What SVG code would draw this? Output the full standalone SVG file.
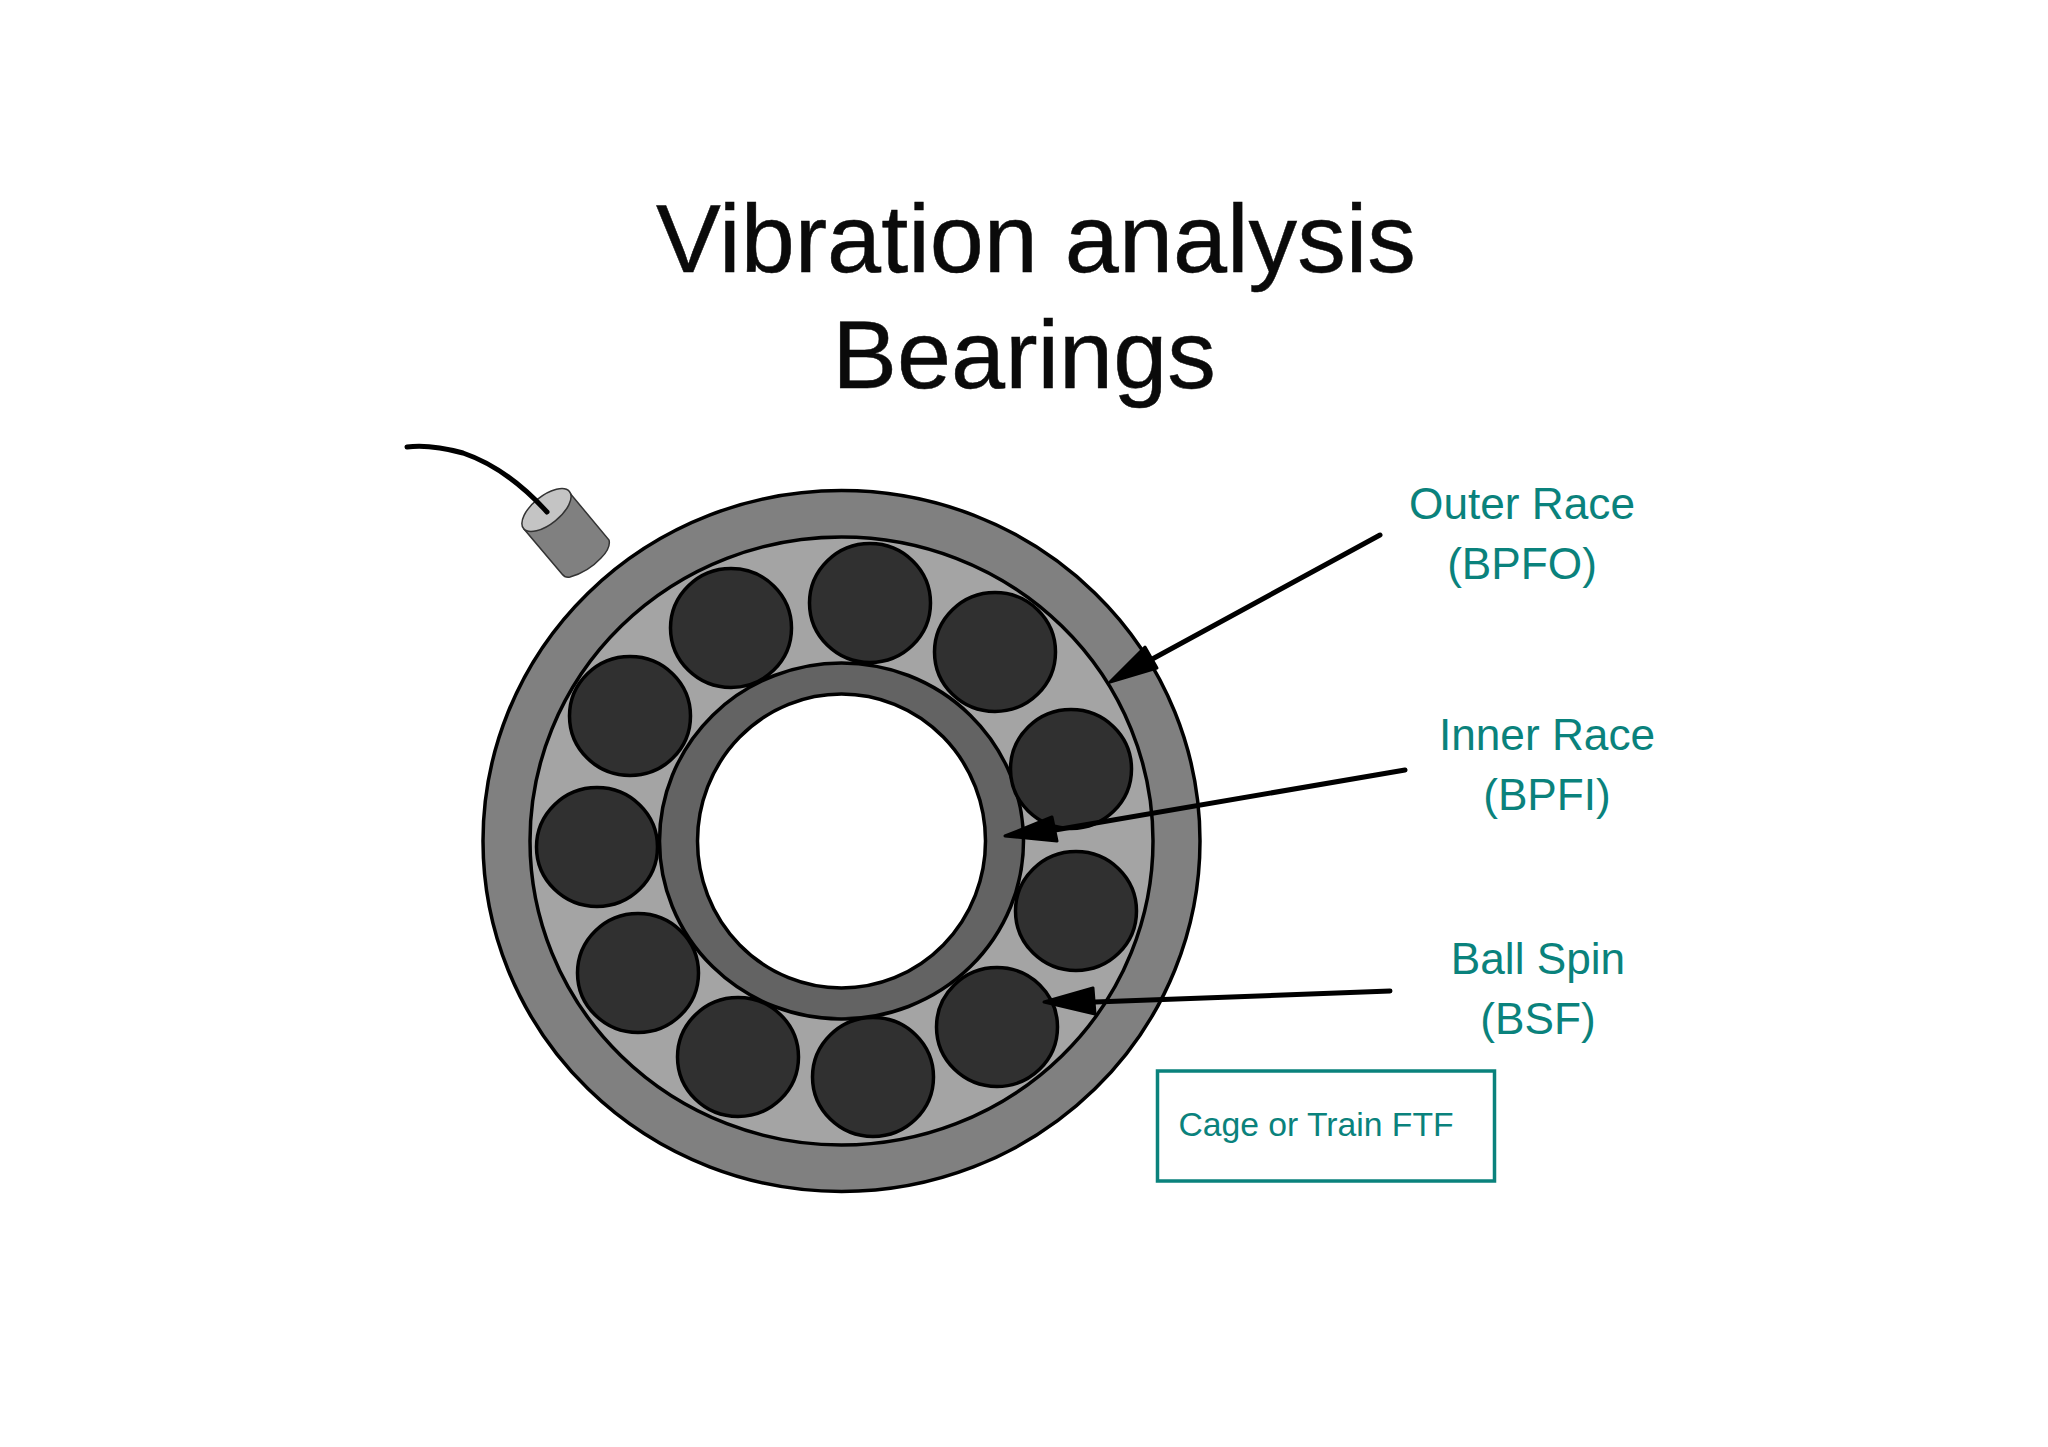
<svg xmlns="http://www.w3.org/2000/svg" width="2048" height="1447" viewBox="0 0 2048 1447">
<style>
.s{stroke:#000;stroke-width:3.5}
.ball{fill:#303030;stroke:#000;stroke-width:3.5}
.conn{fill:none;stroke:#000;stroke-width:5;stroke-linecap:round}
.head{fill:#000;stroke:#000;stroke-width:3;stroke-linejoin:round}
text{font-family:"Liberation Sans",Arial,sans-serif;text-anchor:middle}
.title{font-size:97.2px;fill:#0a0a0a;stroke:#0a0a0a;stroke-width:.5}
.lab{font-size:44.2px;fill:#0a827c}
</style>
<rect width="2048" height="1447" fill="#fff"/>
<g id="title"><text class="title" x="1036" y="272">Vibration analysis</text><text class="title" x="1024" y="388">Bearings</text></g>
<g id="sensor">
<path d="M524 529L569 492L609 540Q611 548 601 558Q588 572 570 577Q565 578 562 574Z" fill="#808080" stroke="#333" stroke-width="1.5"/>
<ellipse cx="546.5" cy="510" rx="29.5" ry="14" transform="rotate(-39 546.5 510)" fill="#c4c4c4" stroke="#333" stroke-width="1.5"/>
<path d="M407 447Q430 444 463 453Q507 468 547 512" class="conn"/>
</g>
<g id="bearing">
<ellipse class="s" cx="841.5" cy="841" rx="358.5" ry="350.5" fill="#808080"/>
<ellipse class="s" cx="841.5" cy="841" rx="311.5" ry="304" fill="#a4a4a4"/>
<ellipse class="s" cx="841.5" cy="841" rx="182" ry="178" fill="#636363"/>
<ellipse class="s" cx="841.5" cy="841" rx="144" ry="147" fill="#fff"/>
</g>
<g id="balls">
<ellipse class="ball" cx="731" cy="628" rx="60.5" ry="59.5"/>
<ellipse class="ball" cx="870" cy="603" rx="60.5" ry="59.5"/>
<ellipse class="ball" cx="995" cy="652" rx="60.5" ry="59.5"/>
<ellipse class="ball" cx="1071" cy="769" rx="60.5" ry="59.5"/>
<ellipse class="ball" cx="1076" cy="911" rx="60.5" ry="59.5"/>
<ellipse class="ball" cx="997" cy="1027" rx="60.5" ry="59.5"/>
<ellipse class="ball" cx="873" cy="1077" rx="60.5" ry="59.5"/>
<ellipse class="ball" cx="738" cy="1057" rx="60.5" ry="59.5"/>
<ellipse class="ball" cx="638" cy="973" rx="60.5" ry="59.5"/>
<ellipse class="ball" cx="597" cy="847" rx="60.5" ry="59.5"/>
<ellipse class="ball" cx="630" cy="716" rx="60.5" ry="59.5"/>
</g>
<g id="connectors">
<path class="conn" d="M1380 535L1145 663"/><path class="head" d="M1110 682L1145 647L1157 668Z"/>
<path class="conn" d="M1405 770L1055 830"/><path class="head" d="M1005 836L1052 817L1057 841Z"/>
<path class="conn" d="M1390 991L1095 1002"/><path class="head" d="M1044 1002L1093 988L1095 1014Z"/>
</g>
<g id="outer-race"><text class="lab" x="1522" y="519">Outer Race</text><text class="lab" x="1522" y="579">(BPFO)</text></g>
<g id="inner-race"><text class="lab" x="1547" y="750">Inner Race</text><text class="lab" x="1547" y="810">(BPFI)</text></g>
<g id="ball-spin"><text class="lab" x="1538" y="974">Ball Spin</text><text class="lab" x="1538" y="1034">(BSF)</text></g>
<g id="cage"><rect x="1157.5" y="1071" width="337" height="110" fill="#fff" stroke="#0a827c" stroke-width="3.5"/><text x="1316" y="1136" font-size="33.7" fill="#0a827c">Cage or Train FTF</text></g>
</svg>
